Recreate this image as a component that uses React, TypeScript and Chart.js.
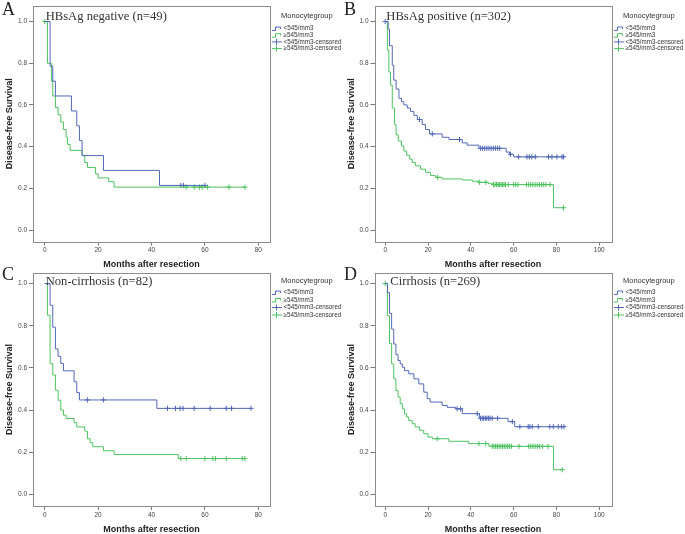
import React, { useEffect, useRef } from "react";
import { Chart, registerables } from "chart.js";
Chart.register(...registerables);

// ---------- shared ticks / labels ----------
const xTicksShort = [0, 20, 40, 60, 80];
const xTicksLong = [0, 20, 40, 60, 80, 100];
const yTicks = [0, 0.2, 0.4, 0.6, 0.8, 1.0];
const yTickLabels = ["0.0", "0.2", "0.4", "0.6", "0.8", "1.0"];
const legendTitle = "Monocytegroup";
const groupLabels = ["<545/mm3", "≥545/mm3", "<545/mm3-censored", "≥545/mm3-censored"];
const xTitle = "Months after resection";
const yTitle = "Disease-free Survival";

// ---------- Panel A: HBsAg negative ----------
const aBlueTimes = [0, 2, 3, 4, 10, 12, 13, 14, 22, 43];
const aBlueSurv = [1, 0.786, 0.714, 0.643, 0.571, 0.5, 0.429, 0.357, 0.286, 0.214];
const aBlueCens = [51, 52, 60];
const aGreenTimes = [0, 1, 2.5, 3, 4, 5, 6, 7, 8, 8.5, 9.5, 14, 15, 16, 19, 20, 24, 26];
const aGreenSurv = [1, 0.8, 0.714, 0.643, 0.588, 0.553, 0.518, 0.482, 0.445, 0.411, 0.382, 0.357, 0.324, 0.3, 0.27, 0.25, 0.232, 0.206];
const aGreenCens = [0, 53, 56, 58, 59, 61, 69, 75];

// ---------- Panel B: HBsAg positive ----------
const bBlueTimes = [0, 1.4, 2, 3.3, 4, 5.1, 6.4, 7.6, 8.7, 10.3, 11.8, 13.4, 15, 17.3, 18.8, 20.7, 26.6, 29.8, 36, 38.3, 43.8, 56.5, 58.1, 60];
const bBlueSurv = [1, 0.964, 0.884, 0.79, 0.719, 0.676, 0.632, 0.616, 0.6, 0.585, 0.569, 0.55, 0.53, 0.506, 0.482, 0.461, 0.445, 0.434, 0.418, 0.407, 0.392, 0.374, 0.363, 0.351];
const bBlueCens = [0, 16, 22, 34.7, 44.5, 45.5, 46.5, 47.5, 48.5, 49.5, 50.5, 51.5, 52.5, 53.5, 58.5, 62.3, 66.2, 67.3, 68.5, 70.1, 76.3, 77.9, 80.2, 82.6, 83.3];
const bGreenTimes = [0, 1, 1.7, 2.5, 3.3, 4.4, 5.1, 6.1, 7.6, 8.7, 10, 11.4, 12.6, 14.2, 16.5, 18.8, 21.2, 23.5, 26.6, 36, 40.7, 43.8, 48, 50, 78.6];
const bGreenSurv = [1, 0.863, 0.758, 0.695, 0.585, 0.506, 0.457, 0.427, 0.403, 0.379, 0.359, 0.34, 0.324, 0.308, 0.292, 0.277, 0.261, 0.253, 0.245, 0.24, 0.234, 0.229, 0.224, 0.218, 0.107];
const bGreenCens = [24.5, 44, 47, 50.6, 51.3, 52, 52.7, 53.4, 54.1, 54.8, 55.5, 56.2, 57.5, 60, 61, 62, 66, 67, 68, 69, 70, 71, 72, 73, 74, 75, 77, 83.3];

// ---------- Panel C: Non-cirrhosis ----------
const cBlueTimes = [0, 2, 3, 4, 5, 6, 7, 11, 12, 13, 42];
const cBlueSurv = [1, 0.897, 0.793, 0.69, 0.655, 0.621, 0.586, 0.534, 0.483, 0.448, 0.408];
const cBlueCens = [16, 22, 46, 49, 50.7, 51.8, 56, 62, 68, 70, 77.3];
const cGreenTimes = [0, 1, 2, 3, 4, 5, 6, 7, 8, 11, 12, 15, 16, 17, 18, 22, 26, 50];
const cGreenSurv = [1, 0.85, 0.62, 0.566, 0.494, 0.447, 0.4, 0.376, 0.36, 0.34, 0.32, 0.3, 0.264, 0.245, 0.226, 0.207, 0.189, 0.17];
const cGreenCens = [51, 53, 60, 63, 64, 68, 74, 75];

// ---------- Panel D: Cirrhosis ----------
const dBlueTimes = [0, 1.1, 2, 3, 4, 5, 6, 7, 8, 9, 11, 13.4, 15.7, 18, 19.6, 21, 26.6, 29, 33, 36, 44, 57.4, 60.5];
const dBlueSurv = [1, 0.957, 0.858, 0.784, 0.713, 0.663, 0.635, 0.619, 0.603, 0.587, 0.572, 0.548, 0.524, 0.485, 0.454, 0.438, 0.422, 0.413, 0.406, 0.383, 0.361, 0.345, 0.321];
const dBlueCens = [33.6, 35.2, 43, 44.5, 45.3, 46, 46.8, 47.5, 48.3, 49, 50, 52.5, 59.4, 62.9, 66.8, 67.6, 68.7, 71.5, 76.9, 78.5, 80.8, 82.4, 83.5];
const dGreenTimes = [0, 1, 2, 3, 4, 5, 6, 7, 8, 9, 10, 11, 12.6, 14, 16, 18, 20, 22, 29.7, 39, 48.4, 78.6];
const dGreenSurv = [1, 0.847, 0.716, 0.619, 0.548, 0.493, 0.461, 0.43, 0.406, 0.383, 0.367, 0.351, 0.335, 0.32, 0.304, 0.288, 0.272, 0.264, 0.252, 0.241, 0.228, 0.117];
const dGreenCens = [0, 24.3, 43.8, 47, 50, 50.8, 51.6, 52.4, 53.2, 54, 54.8, 55.6, 56.4, 57.2, 58, 59, 62.5, 67, 68, 69, 70, 71, 72, 73.4, 76, 82.7];

// ---------- styles ----------
const BLUE = "#5268b8";
const GREEN = "#4fc260";
const SANS = "'Liberation Sans', Arial, sans-serif";
const SERIF = "'Liberation Serif', 'Times New Roman', serif";

type Cfg = {
  letter: string; title: string;
  left: number; top: number; w: number; h: number;
  padTop: number; padRight: number; yAxisW: number; xAxisH: number;
  xMin: number; xMax: number; xTicks: number[]; yMin: number; yMax: number;
  xTitlePad: number; letterY: number; titleX: number; titleY: number;
  legTitleY: number; legItemsY: number[];
  blueT: number[]; blueS: number[]; blueC: number[];
  greenT: number[]; greenS: number[]; greenC: number[];
};

function survAt(times: number[], surv: number[], t: number) {
  let s = surv[0];
  for (let i = 0; i < times.length; i++) if (times[i] <= t) s = surv[i];
  return s;
}
function linePts(times: number[], surv: number[], cens: number[]) {
  const pts = times.map((t, i) => ({ x: t, y: surv[i] }));
  const lastT = times[times.length - 1];
  const end = Math.max(lastT, ...cens);
  if (end > lastT) pts.push({ x: end, y: surv[surv.length - 1] });
  return pts;
}
function censPts(times: number[], surv: number[], cens: number[]) {
  return cens.map((t) => ({ x: t, y: survAt(times, surv, t) }));
}

const panels: Cfg[] = [
  {
    letter: "A", title: "HBsAg negative (n=49)", left: 0, top: 0, w: 342, h: 272,
    padTop: 2.5, padRight: 72, yAxisW: 33, xAxisH: 30.5, xMin: -4.4, xMax: 84.4, xTicks: xTicksShort,
    yMin: -0.055, yMax: 1.075, xTitlePad: 2.5, letterY: 15, titleX: 45.7, titleY: 17,
    legTitleY: 15.5, legItemsY: [28.5, 35.2, 41.9, 48.6],
    blueT: aBlueTimes, blueS: aBlueSurv, blueC: aBlueCens, greenT: aGreenTimes, greenS: aGreenSurv, greenC: aGreenCens,
  },
  {
    letter: "B", title: "HBsAg positive (n=302)", left: 342, top: 0, w: 343, h: 272,
    padTop: 2.5, padRight: 73.5, yAxisW: 32.5, xAxisH: 30.5, xMin: -5, xMax: 105.7, xTicks: xTicksLong,
    yMin: -0.055, yMax: 1.075, xTitlePad: 2.5, letterY: 15, titleX: 44.3, titleY: 17,
    legTitleY: 15.5, legItemsY: [28.5, 35.2, 41.9, 48.6],
    blueT: bBlueTimes, blueS: bBlueSurv, blueC: bBlueCens, greenT: bGreenTimes, greenS: bGreenSurv, greenC: bGreenCens,
  },
  {
    letter: "C", title: "Non-cirrhosis (n=82)", left: 0, top: 267, w: 342, h: 267,
    padTop: 6, padRight: 72, yAxisW: 33, xAxisH: 28, xMin: -4.4, xMax: 84.4, xTicks: xTicksShort,
    yMin: -0.055, yMax: 1.05, xTitlePad: 0.2, letterY: 13, titleX: 45.7, titleY: 15,
    legTitleY: 13.5, legItemsY: [25.5, 33, 40.5, 48],
    blueT: cBlueTimes, blueS: cBlueSurv, blueC: cBlueCens, greenT: cGreenTimes, greenS: cGreenSurv, greenC: cGreenCens,
  },
  {
    letter: "D", title: "Cirrhosis (n=269)", left: 342, top: 267, w: 343, h: 267,
    padTop: 6, padRight: 73.5, yAxisW: 32.5, xAxisH: 28, xMin: -5, xMax: 105.7, xTicks: xTicksLong,
    yMin: -0.055, yMax: 1.05, xTitlePad: 0.2, letterY: 13.3, titleX: 48.3, titleY: 15,
    legTitleY: 13.5, legItemsY: [25.5, 33, 40.5, 48],
    blueT: dBlueTimes, blueS: dBlueSurv, blueC: dBlueCens, greenT: dGreenTimes, greenS: dGreenSurv, greenC: dGreenCens,
  },
];

function Panel({ cfg }: { cfg: Cfg }) {
  const ref = useRef<HTMLCanvasElement>(null);
  useEffect(() => {
    const boxPlugin = {
      id: "box",
      beforeDatasetsDraw(chart: any) {
        const { ctx, chartArea } = chart;
        ctx.save();
        ctx.strokeStyle = "#8c8c8c";
        ctx.lineWidth = 1;
        ctx.strokeRect(Math.round(chartArea.left) + 0.5, Math.round(chartArea.top) + 0.5,
          Math.round(chartArea.right - chartArea.left), Math.round(chartArea.bottom - chartArea.top));
        ctx.restore();
      },
    };
    const overlayPlugin = {
      id: "overlay",
      afterDraw(chart: any) {
        const ctx = chart.ctx as CanvasRenderingContext2D;
        ctx.save();
        // panel letter
        ctx.fillStyle = "#222";
        ctx.font = `18px ${SERIF}`;
        ctx.textBaseline = "alphabetic";
        ctx.textAlign = "left";
        ctx.fillText(cfg.letter, 2, cfg.letterY);
        // in-plot title
        ctx.fillStyle = "#333";
        ctx.font = `12.6px ${SERIF}`;
        ctx.textBaseline = "middle";
        ctx.fillText(cfg.title, cfg.titleX, cfg.titleY);
        // legend
        ctx.fillStyle = "#333";
        ctx.font = `7.5px ${SANS}`;
        ctx.fillText(legendTitle, 281, cfg.legTitleY);
        ctx.font = `6.3px ${SANS}`;
        const colors = [BLUE, GREEN, BLUE, GREEN];
        cfg.legItemsY.forEach((y, i) => {
          ctx.strokeStyle = colors[i];
          ctx.lineWidth = 1;
          ctx.beginPath();
          if (i < 2) {
            ctx.moveTo(272, y + 2);
            ctx.lineTo(275.5, y + 2);
            ctx.lineTo(275.5, y - 1.5);
            ctx.lineTo(280.5, y - 1.5);
            ctx.lineTo(280.5, y + 0.5);
          } else {
            ctx.moveTo(272, y);
            ctx.lineTo(282, y);
            ctx.moveTo(276.5, y - 3);
            ctx.lineTo(276.5, y + 3);
          }
          ctx.stroke();
          ctx.fillStyle = "#333";
          ctx.fillText(groupLabels[i], 283.5, y);
        });
        ctx.restore();
      },
    };

    const tickFont = { family: SANS, size: 6.5 };
    const titleFont = { family: SANS, size: 9, weight: "bold" as const, lineHeight: 1 };

    const chart = new Chart(ref.current!, {
      type: "scatter",
      data: {
        datasets: [
          {
            label: groupLabels[0], data: linePts(cfg.blueT, cfg.blueS, cfg.blueC),
            showLine: true, stepped: true, borderColor: BLUE, borderWidth: 1, pointRadius: 0, fill: false,
          },
          {
            label: groupLabels[1], data: linePts(cfg.greenT, cfg.greenS, cfg.greenC),
            showLine: true, stepped: true, borderColor: GREEN, borderWidth: 1, pointRadius: 0, fill: false,
          },
          {
            label: groupLabels[2], data: censPts(cfg.blueT, cfg.blueS, cfg.blueC),
            showLine: false, pointStyle: "cross", pointRadius: 2.6, borderColor: BLUE, borderWidth: 1,
          },
          {
            label: groupLabels[3], data: censPts(cfg.greenT, cfg.greenS, cfg.greenC),
            showLine: false, pointStyle: "cross", pointRadius: 2.6, borderColor: GREEN, borderWidth: 1,
          },
        ],
      } as any,
      options: {
        animation: false,
        responsive: false,
        maintainAspectRatio: false,
        events: [],
        layout: { padding: { top: cfg.padTop, right: cfg.padRight, left: 0, bottom: 0 } },
        plugins: { legend: { display: false }, tooltip: { enabled: false } },
        scales: {
          x: {
            type: "linear", min: cfg.xMin, max: cfg.xMax,
            afterBuildTicks: (s: any) => { s.ticks = cfg.xTicks.map((v) => ({ value: v })); },
            afterFit: (s: any) => { s.height = cfg.xAxisH; },
            ticks: { font: tickFont, color: "#444", padding: 1, maxRotation: 0, autoSkip: false, callback: (v: any) => String(v) },
            grid: { display: true, drawOnChartArea: false, tickLength: 4, color: "#777" },
            border: { display: false },
            title: { display: true, text: xTitle, font: titleFont, color: "#222", padding: { top: 0, bottom: cfg.xTitlePad } },
          },
          y: {
            type: "linear", min: cfg.yMin, max: cfg.yMax,
            afterBuildTicks: (s: any) => { s.ticks = yTicks.map((v) => ({ value: v })); },
            afterFit: (s: any) => { s.width = cfg.yAxisW; },
            ticks: {
              font: tickFont, color: "#444", padding: 2, autoSkip: false,
              callback: (v: any) => { const i = yTicks.findIndex((t) => Math.abs(t - v) < 1e-6); return i >= 0 ? yTickLabels[i] : ""; },
            },
            grid: { display: true, drawOnChartArea: false, tickLength: 4, color: "#777" },
            border: { display: false },
            title: { display: true, text: yTitle, font: titleFont, color: "#222", padding: { top: 5, bottom: 0 } },
          },
        },
      } as any,
      plugins: [boxPlugin, overlayPlugin],
    });
    return () => chart.destroy();
  }, []);
  return (
    <canvas
      ref={ref}
      width={cfg.w}
      height={cfg.h}
      style={{ position: "absolute", left: cfg.left, top: cfg.top, width: cfg.w, height: cfg.h }}
    />
  );
}

export default function App() {
  return (
    <div style={{ position: "absolute", left: 0, top: 0, width: 685, height: 534, background: "#fff", overflow: "hidden" }}>
      {panels.map((p) => (
        <Panel key={p.letter} cfg={p} />
      ))}
    </div>
  );
}
